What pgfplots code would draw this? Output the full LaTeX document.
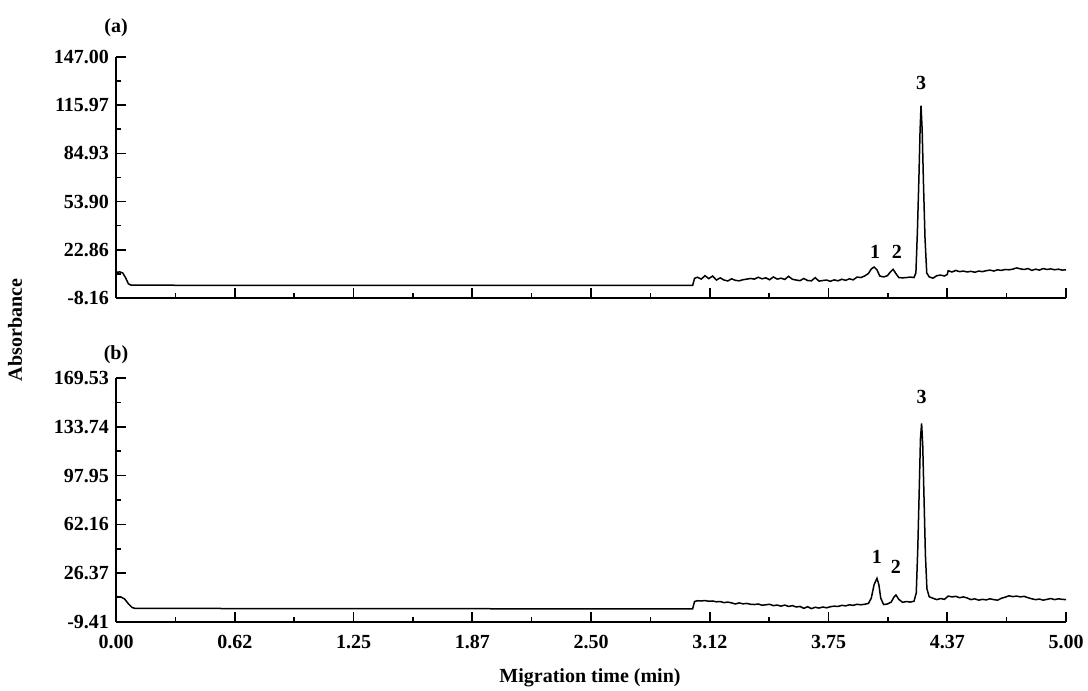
\documentclass[border=0pt]{standalone}
\usepackage{pgfplots}
\pgfplotsset{compat=1.18}
\usepackage{fontspec}
\setmainfont{Liberation Serif}
\newcommand{\lbl}{\fontsize{10}{12}\selectfont\bfseries}
\begin{document}
\begin{tikzpicture}
\useasboundingbox (0,0) rectangle (544pt,345.5pt);
\pgfplotsset{
  every axis/.append style={
    scale only axis, width=475pt, xmin=0, xmax=5,
    axis x line*=bottom, axis y line*=left,
    axis line style={line width=0.9pt},
    tick align=inside,
    major tick length=5pt, minor tick length=2.5pt,
    every tick/.style={black, line width=0.8pt},
    tick label style={font=\lbl},
    xtick={0,0.625,1.25,1.875,2.5,3.125,3.75,4.375,5},
    minor xtick={0.3125,0.9375,1.5625,2.1875,2.8125,3.4375,4.0625,4.6875},
    clip=false,
  },
}
% ---------- panel (a) ----------
\begin{axis}[at={(58pt,196.5pt)}, anchor=south west, height=120.5pt,
  ymin=-8.16, ymax=147,
  ytick={-8.16,22.872,53.904,84.936,115.968,147},
  yticklabels={-8.16,22.86,53.90,84.93,115.97,147.00},
  minor ytick={7.356,38.388,69.42,100.452,131.484},
  xticklabels={},
]
\addplot[black, line width=0.75pt] coordinates {
(0.000,8.5)(0.020,8.6)(0.035,8.0)(0.050,5.0)(0.065,1.0)(0.080,0.1)(0.5,0.0)(1.0,0.0)(1.5,0.0)(2.0,0.0)(2.5,0.0)(3.035,0.0)
(3.045,4.5)(3.06,5.2)(3.08,4.0)(3.10,6.2)(3.12,4.3)(3.14,6.0)(3.16,3.4)(3.18,4.8)(3.20,3.4)(3.22,2.8)
(3.24,4.2)(3.26,3.2)(3.28,2.9)(3.30,3.6)(3.32,4.0)(3.34,4.4)(3.36,4.0)(3.38,5.2)(3.40,4.2)(3.42,4.8)
(3.44,3.6)(3.46,5.4)(3.48,4.0)(3.50,4.6)(3.52,3.8)(3.54,5.8)(3.56,3.9)(3.58,3.4)(3.60,3.0)(3.62,4.4)
(3.64,3.1)(3.66,2.9)(3.68,4.9)(3.70,2.7)(3.72,3.1)(3.74,3.4)(3.76,2.6)(3.78,3.5)(3.80,2.9)(3.82,3.9)
(3.84,3.2)(3.86,4.2)(3.88,3.5)(3.90,5.3)(3.92,5.0)(3.94,6.0)(3.96,7.6)(3.975,10.5)(3.99,11.8)(4.005,10.0)
(4.02,6.0)(4.04,5.4)(4.06,6.2)(4.075,8.5)(4.09,10.3)(4.105,7.5)(4.12,5.0)(4.14,4.8)(4.16,5.0)(4.18,5.3)
(4.20,5.0)(4.21,8.0)(4.218,35)(4.226,70)(4.232,100)(4.237,115.7)(4.243,100)(4.25,65)(4.258,30)(4.267,8)
(4.28,5.4)(4.30,4.6)(4.32,6.2)(4.34,6.6)(4.36,6.0)(4.375,7.0)(4.38,9.4)(4.40,8.6)(4.42,9.6)(4.44,8.8)
(4.46,9.2)(4.48,8.6)(4.50,9.0)(4.52,8.4)(4.54,9.2)(4.56,8.8)(4.58,9.4)(4.60,9.8)(4.62,9.2)(4.64,10.0)
(4.66,9.6)(4.68,10.2)(4.70,10.0)(4.72,10.4)(4.74,11.2)(4.76,10.6)(4.78,10.2)(4.80,10.8)(4.82,9.6)(4.84,10.4)
(4.86,9.8)(4.88,10.8)(4.90,10.2)(4.92,10.6)(4.94,10.0)(4.96,10.4)(4.98,9.8)(5.00,10.0)
};
\node[font=\lbl] at (axis cs:3.995,21.5) {1};
\node[font=\lbl] at (axis cs:4.11,21.5) {2};
\node[font=\lbl] at (axis cs:4.237,130.3) {3};
\end{axis}
% ---------- panel (b) ----------
\begin{axis}[at={(58pt,34.5pt)}, anchor=south west, height=122pt,
  ymin=-9.41, ymax=169.53,
  ytick={-9.41,26.378,62.166,97.954,133.742,169.53},
  yticklabels={-9.41,26.37,62.16,97.95,133.74,169.53},
  minor ytick={8.484,44.272,80.06,115.848,151.636},
  xticklabels={0.00,0.62,1.25,1.87,2.50,3.12,3.75,4.37,5.00},
  xticklabel style={yshift=-3pt},
]
\addplot[black, line width=0.75pt] coordinates {
(0.000,9.2)(0.025,9.0)(0.045,7.5)(0.065,4.0)(0.085,1.2)(0.10,0.6)(0.5,0.5)(1.0,0.4)(1.5,0.4)(2.0,0.3)(2.5,0.3)(3.035,0.3)
(3.045,5.6)(3.06,6.2)(3.08,6.0)(3.10,6.3)(3.12,5.8)(3.14,6.0)(3.16,5.4)(3.18,5.6)(3.20,4.8)(3.22,5.2)
(3.24,4.6)(3.26,3.8)(3.28,4.6)(3.30,3.9)(3.32,4.2)(3.34,3.6)(3.36,3.4)(3.38,3.8)(3.40,2.9)(3.42,3.2)
(3.44,3.6)(3.46,2.6)(3.48,3.0)(3.50,2.2)(3.52,3.0)(3.54,2.0)(3.56,2.6)(3.58,1.6)(3.60,2.0)(3.62,0.6)
(3.64,1.8)(3.66,0.4)(3.68,1.4)(3.70,0.8)(3.72,1.6)(3.74,1.0)(3.76,1.8)(3.78,2.2)(3.80,2.0)(3.82,2.8)
(3.84,2.4)(3.86,3.2)(3.88,2.8)(3.90,3.6)(3.92,3.2)(3.94,3.6)(3.96,4.2)(3.975,8)(3.99,18)(4.005,22.6)
(4.015,18)(4.025,8)(4.04,3.4)(4.06,3.8)(4.08,5.2)(4.095,9.0)(4.105,10.4)(4.12,7.2)(4.14,5.0)(4.16,5.6)
(4.18,5.2)(4.20,5.8)(4.212,12)(4.22,45)(4.228,90)(4.234,125)(4.24,136.3)(4.246,120)(4.253,80)(4.26,40)
(4.268,15)(4.28,9.1)(4.30,8.0)(4.32,7.0)(4.34,7.8)(4.36,7.2)(4.38,9.6)(4.40,9.0)(4.42,9.4)(4.44,8.4)
(4.46,9.0)(4.48,8.2)(4.50,7.0)(4.52,7.6)(4.54,6.6)(4.56,7.2)(4.58,6.8)(4.60,7.6)(4.62,7.0)(4.64,6.6)
(4.66,8.0)(4.68,8.8)(4.70,9.8)(4.72,9.2)(4.74,9.6)(4.76,9.0)(4.78,9.4)(4.80,8.4)(4.82,7.6)(4.84,7.0)
(4.86,7.4)(4.88,6.6)(4.90,7.2)(4.92,7.8)(4.94,7.0)(4.96,7.6)(4.98,7.2)(5.00,7.0)
};
\node[font=\lbl] at (axis cs:4.005,38.2) {1};
\node[font=\lbl] at (axis cs:4.105,30.9) {2};
\node[font=\lbl] at (axis cs:4.24,155.5) {3};
\end{axis}
\node[font=\lbl] at (58pt,331.5pt) {(a)};
\node[font=\lbl] at (58pt,168pt) {(b)};
\node[font=\lbl, rotate=90] at (7.5pt,180.5pt) {Absorbance};
\node[font=\lbl] at (295pt,6.5pt) {Migration time (min)};
\end{tikzpicture}
\end{document}
